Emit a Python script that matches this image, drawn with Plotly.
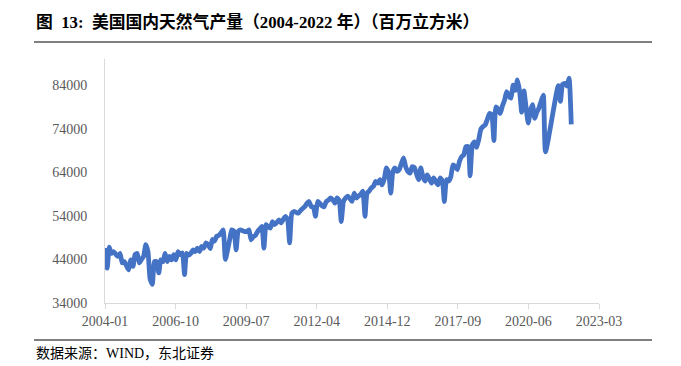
import pandas as pd
import plotly.graph_objects as go

# ---- data (monthly, million cubic metres) ----
start_month = "2004-01"
production = [
    46600, 42000, 46800, 45400, 45800, 45200, 44700, 45400, 43200, 43500,
    42500, 41600, 43900, 42400, 45100, 45400, 43200, 44000, 44700, 47400,
    45800, 39500, 38300, 43500, 43500, 40900, 43900, 43500, 45400, 43500,
    44700, 43900, 45100, 43900, 45800, 45100, 45500, 40500, 45400, 45000,
    45400, 46200, 45800, 46600, 45800, 47000, 46600, 47800, 47400, 46500,
    48600, 48200, 49300, 49500, 50100, 50800, 44000, 46000, 48500, 50800,
    50500, 46200, 50400, 50800, 50600, 50400, 50400, 50800, 48500, 49200,
    49500, 50400, 51000, 51600, 46600, 52000, 51500, 51200, 52700, 52000,
    52500, 53100, 52400, 53200, 53900, 53100, 47800, 54600, 55000, 54800,
    54600, 55200, 55700, 56100, 56900, 57300, 56100, 56000, 53900, 57300,
    56900, 56300, 56100, 57300, 57600, 58100, 57700, 56900, 58100, 57500,
    52700, 57300, 58100, 58500, 58000, 57300, 59200, 58100, 58600, 58900,
    59700, 53900, 59200, 59700, 60400, 60800, 61900, 61500, 62300, 61100,
    62500, 65000, 64000, 59200, 64000, 65000, 64200, 64600, 66000, 67300,
    65200, 64200, 63800, 65300, 65100, 63600, 62300, 65000, 63000, 62000,
    63400, 62500, 61500, 62700, 61800, 61100, 62700, 62000, 57300, 62300,
    62000, 63000, 65700, 65300, 64600, 66500, 67600, 68000, 69900, 69900,
    63200, 70300, 71000, 69700, 71500, 73900, 74500, 74900, 76200, 77500,
    77200, 71300, 79000, 78500, 77500, 79200, 80500, 82500, 81500, 81000,
    84000, 82800, 85200, 82500, 77800, 82700, 79000, 75300, 78000, 79500,
    76400, 77800, 78800, 80300, 81700, 68700, None, None, None, None,
    None, 83900, 80300, 84200, 84400, 83800, 85600, 75000,
]
dates = pd.date_range(start_month + "-01", periods=len(production), freq="MS")

x_tick_labels = ["2004-01", "2006-10", "2009-07", "2012-04",
                 "2014-12", "2017-09", "2020-06", "2023-03"]
y_ticks = [34000, 44000, 54000, 64000, 74000, 84000]

title_text = "图  13:  美国国内天然气产量（2004-2022 年）（百万立方米）"
source_text = "数据来源：WIND，东北证券"

# ---- layout geometry (page pixels; the page body adds an 8px offset) ----
OFF = 8
W, H = 681 - OFF, 366 - OFF
plot_l, plot_r, plot_t, plot_b = 105, 599, 59, 303   # page coords
ml = plot_l - OFF
mt = plot_t - OFF
mr = W - (plot_r - OFF)
mb = H - (plot_b - OFF)
pw, ph = W - ml - mr, H - mt - mb

def px_x(x):          # page x -> paper fraction
    return (x - plot_l) / pw

def px_y(y):          # page y -> paper fraction
    return (plot_b - y) / ph

t0 = pd.Timestamp(x_tick_labels[0] + "-01")
t1 = pd.Timestamp(x_tick_labels[-1] + "-01")
n = len(x_tick_labels) - 1
tickvals = [t0 + (t1 - t0) * k / n for k in range(n + 1)]

serif = "Liberation Serif, Noto Sans CJK SC, serif"

fig = go.Figure()
fig.add_trace(go.Scatter(
    x=dates, y=production, mode="lines",
    line=dict(color="#4472C4", width=4.8, shape="spline", smoothing=0.5),
    connectgaps=True, hoverinfo="x+y", showlegend=False,
))

fig.update_layout(
    width=W, height=H,
    margin=dict(l=ml, r=mr, t=mt, b=mb, pad=0),
    paper_bgcolor="white", plot_bgcolor="white",
    xaxis=dict(
        type="date", range=[t0, t1],
        tickvals=tickvals, ticktext=x_tick_labels,
        showgrid=False, zeroline=False,
        showline=True, linecolor="#d9d9d9", linewidth=1,
        ticks="outside", ticklen=5, tickcolor="#d9d9d9", tickwidth=1,
        tickfont=dict(family=serif, size=14, color="#595959"),
    ),
    yaxis=dict(
        range=[34000, 90000],
        tickvals=y_ticks, ticktext=[str(v) for v in y_ticks],
        showgrid=False, zeroline=False,
        showline=True, linecolor="#d9d9d9", linewidth=1,
        ticks="", ticklabelstandoff=14,
        tickfont=dict(family=serif, size=14, color="#595959"),
    ),
    annotations=[
        dict(text="<b>" + title_text + "</b>", xref="paper", yref="paper",
             x=px_x(34), y=px_y(22), xanchor="left", yanchor="middle",
             showarrow=False,
             font=dict(family=serif, size=16.8, color="#000000")),
        dict(text=source_text, xref="paper", yref="paper",
             x=px_x(34), y=px_y(353), xanchor="left", yanchor="middle",
             showarrow=False,
             font=dict(family=serif, size=14, color="#000000")),
    ],
    shapes=[
        dict(type="line", xref="paper", yref="paper",
             x0=px_x(34), x1=px_x(652), y0=px_y(42), y1=px_y(42),
             line=dict(color="#808080", width=2.2)),
        dict(type="line", xref="paper", yref="paper",
             x0=px_x(34), x1=px_x(652), y0=px_y(340), y1=px_y(340),
             line=dict(color="#000000", width=1.2)),
    ],
)

fig.write_html("out.html")
